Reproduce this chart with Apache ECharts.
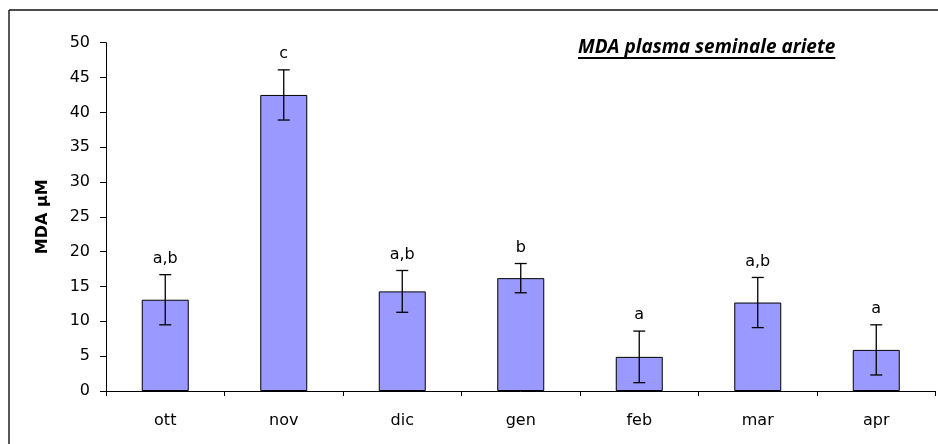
<!DOCTYPE html>
<html>
<head>
<meta charset="utf-8">
<script src="https://cdn.jsdelivr.net/npm/echarts@6/dist/echarts.min.js"></script>
<style>html,body{margin:0;padding:0;background:#fff}#c{width:938px;height:444px}</style>
</head>
<body>
<div id="c"></div>
<script>
var categories = ['ott', 'nov', 'dic', 'gen', 'feb', 'mar', 'apr'];
var means = [13.1, 42.5, 14.3, 16.2, 4.9, 12.7, 5.9];
var errors = [3.6, 3.6, 3.0, 2.1, 3.7, 3.6, 3.6];
var letters = ['a,b', 'c', 'a,b', 'b', 'a', 'a,b', 'a'];
var yTicks = [0, 5, 10, 15, 20, 25, 30, 35, 40, 45, 50];
var titleText = 'MDA plasma seminale ariete';
var yName = 'MDA \u00b5M';

var chart = echarts.init(document.getElementById('c'));
var titleFont = 'italic bold 19px "Open Sans"';
var cv = document.createElement('canvas').getContext('2d');
cv.font = titleFont;
var tw = cv.measureText(titleText).width;
var tx = 578, ty = 38;
var labFont = 'DejaVu Sans';

var errData = means.map(function (m, i) { return [i, m - errors[i], m + errors[i], letters[i]]; });

chart.setOption({
  animation: false,
  backgroundColor: '#fff',
  grid: { left: 106, right: 2.5, top: 42.7, bottom: 53 },
  title: {
    text: titleText, left: tx, top: ty, padding: 0,
    textStyle: { fontFamily: 'Open Sans', fontStyle: 'italic', fontWeight: 'bold', fontSize: 19, color: '#000' }
  },
  graphic: [
    { type: 'line', shape: { x1: 9, y1: 10, x2: 9, y2: 444 }, style: { stroke: '#111', lineWidth: 1.4 } },
    { type: 'line', shape: { x1: 9, y1: 10, x2: 938, y2: 10 }, style: { stroke: '#111', lineWidth: 1.4 } },
    { type: 'line', shape: { x1: tx, y1: 58, x2: tx + tw, y2: 58 }, style: { stroke: '#000', lineWidth: 2 } }
  ],
  xAxis: {
    type: 'category', data: categories,
    axisLine: { lineStyle: { color: '#000', width: 1 } },
    axisTick: { show: true, length: 5, lineStyle: { color: '#000' } },
    axisLabel: { color: '#000', fontFamily: labFont, fontSize: 16, margin: 22 }
  },
  yAxis: {
    type: 'value', min: yTicks[0], max: yTicks[yTicks.length - 1], interval: yTicks[1] - yTicks[0],
    name: yName, nameLocation: 'middle', nameGap: 55,
    nameTextStyle: { color: '#000', fontFamily: labFont, fontWeight: 'bold', fontSize: 16 },
    axisLine: { show: true, lineStyle: { color: '#000', width: 1 } },
    axisTick: { show: true, length: 6, lineStyle: { color: '#000' } },
    axisLabel: { color: '#000', fontFamily: labFont, fontSize: 16, margin: 16 },
    splitLine: { show: false }
  },
  series: [
    {
      type: 'bar', data: means, barWidth: 47,
      itemStyle: { color: '#9999FF', borderColor: '#000', borderWidth: 1 }
    },
    {
      type: 'custom', data: errData, z: 5,
      renderItem: function (params, api) {
        var x = api.value(0);
        var lo = api.coord([x, api.value(1)]);
        var hi = api.coord([x, api.value(2)]);
        var cw = 6;
        var ls = { stroke: '#000', lineWidth: 1.3 };
        return {
          type: 'group',
          children: [
            { type: 'line', shape: { x1: hi[0], y1: hi[1], x2: lo[0], y2: lo[1] }, style: ls },
            { type: 'line', shape: { x1: hi[0] - cw, y1: hi[1], x2: hi[0] + cw, y2: hi[1] }, style: ls },
            { type: 'line', shape: { x1: lo[0] - cw, y1: lo[1], x2: lo[0] + cw, y2: lo[1] }, style: ls },
            { type: 'text', style: { text: letters[params.dataIndex], x: hi[0], y: hi[1] - 8,
              align: 'center', verticalAlign: 'bottom', fill: '#000', font: '16px "DejaVu Sans"' } }
          ]
        };
      }
    }
  ]
});
</script>
</body>
</html>
